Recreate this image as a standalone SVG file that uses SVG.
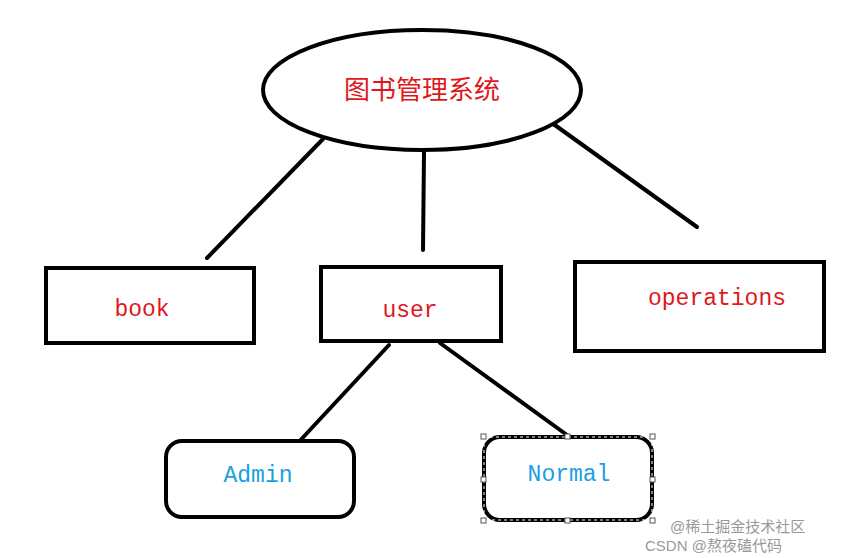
<svg xmlns="http://www.w3.org/2000/svg" width="843" height="558" viewBox="0 0 843 558">
<style>
.s{fill:#fff;stroke:#000;stroke-width:4}
.r{fill:#e0171c;font-family:"Liberation Mono",monospace;font-size:23px;text-anchor:middle}
.b{fill:#1aa0e0;font-family:"Liberation Mono",monospace;font-size:23px;text-anchor:middle}
.c line{stroke:#000;stroke-width:4;stroke-linecap:round}
.h{fill:#fff;stroke:#555;stroke-width:1}
.w{fill:#999;font-family:"Liberation Sans","Noto Sans CJK SC",sans-serif;font-size:15px}
</style>
<rect width="843" height="558" fill="#fff"/>
<g class="c" id="connectors">
<line x1="323" y1="139" x2="207" y2="258"/>
<line x1="424" y1="152" x2="423" y2="250"/>
<line x1="552" y1="123" x2="697" y2="227"/>
<line x1="389" y1="345" x2="295" y2="446"/>
<line x1="440" y1="343" x2="567" y2="435"/>
</g>
<g id="root"><ellipse class="s" cx="422" cy="90" rx="159" ry="60"/>
<text x="422" y="99" fill="#e0171c" font-family="'Noto Sans CJK SC',sans-serif" font-size="26" text-anchor="middle">图书管理系统</text></g>
<g id="book"><rect class="s" x="46" y="268" width="208" height="75"/><text class="r" x="142" y="316">book</text></g>
<g id="user"><rect class="s" x="321" y="267" width="180" height="74"/><text class="r" x="410" y="317">user</text></g>
<g id="operations"><rect class="s" x="575" y="262" width="249" height="89"/><text class="r" x="717" y="305">operations</text></g>
<g id="admin"><rect class="s" x="166" y="441" width="188" height="76" rx="16"/><text class="b" x="258" y="482">Admin</text></g>
<g id="normal"><rect class="s" x="484" y="437" width="168" height="83" rx="16"/>
<rect x="484" y="437" width="168" height="83" fill="none" stroke="#fff" stroke-width="1" stroke-dasharray="3 3"/>
<text class="b" x="569" y="481">Normal</text>
<rect class="h" x="481" y="434" width="5" height="5"/><rect class="h" x="565" y="434" width="5" height="5"/><rect class="h" x="650" y="434" width="5" height="5"/>
<rect class="h" x="481" y="477" width="5" height="5"/><rect class="h" x="650" y="477" width="5" height="5"/>
<rect class="h" x="481" y="518" width="5" height="5"/><rect class="h" x="565" y="518" width="5" height="5"/><rect class="h" x="650" y="518" width="5" height="5"/></g>
<text class="w" x="670" y="532">@稀土掘金技术社区</text>
<text class="w" x="645" y="551">CSDN @熬夜磕代码</text>
</svg>
